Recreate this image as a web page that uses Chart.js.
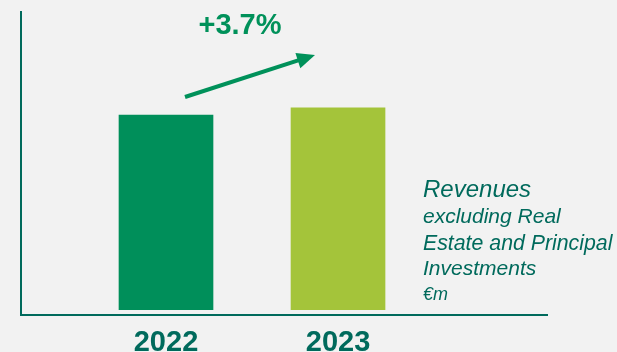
<!DOCTYPE html>
<html>
<head>
<meta charset="utf-8">
<script src="https://cdn.jsdelivr.net/npm/chart.js@4.4.1/dist/chart.umd.min.js"></script>
<style>
  html, body { margin: 0; padding: 0; background: #f2f2f2; }
  #wrap { width: 617px; height: 352px; overflow: hidden; }
</style>
</head>
<body>
<div id="wrap"><canvas id="revChart" width="617" height="352"></canvas></div>
<script>
var years = ['2022', '2023'];
var revenues = [100, 103.7];   // index, 2022 = 100
var barColors = ['#008f5a', '#a4c43a'];
var growthLabel = '+3.7%';
var noteLines = ['Revenues', 'excluding Real', 'Estate and Principal', 'Investments', '€m'];

var teal = '#006a5c';
var green = '#00915a';

// growth arrow + side note, drawn over the chart
var extras = {
  id: 'extras',
  afterDraw: function (chart) {
    var c = chart.ctx;
    c.save();
    c.fillStyle = green;
    c.font = 'bold 29px "Liberation Sans", Arial, sans-serif';
    c.textAlign = 'center';
    c.textBaseline = 'alphabetic';
    c.fillText(growthLabel, 240, 34);

    var x1 = 185, y1 = 97, x2 = 315, y2 = 55;
    var ang = Math.atan2(y2 - y1, x2 - x1);
    var cos = Math.cos(ang), sin = Math.sin(ang);
    c.strokeStyle = green;
    c.lineWidth = 4;
    c.beginPath();
    c.moveTo(x1, y1);
    c.lineTo(x2 - 12 * cos, y2 - 12 * sin);
    c.stroke();
    c.beginPath();
    c.moveTo(x2, y2);
    c.lineTo(x2 - 18 * cos + 8 * sin, y2 - 18 * sin - 8 * cos);
    c.lineTo(x2 - 18 * cos - 8 * sin, y2 - 18 * sin + 8 * cos);
    c.closePath();
    c.fill();

    c.fillStyle = teal;
    c.textAlign = 'left';
    var sizes = [24, 21, 21.3, 21, 18];
    var bases = [197, 223, 250, 275, 300];
    for (var i = 0; i < noteLines.length; i++) {
      c.font = 'italic ' + sizes[i] + 'px "Liberation Sans", Arial, sans-serif';
      c.fillText(noteLines[i], 423, bases[i]);
    }
    c.restore();
  }
};

var ctx = document.getElementById('revChart').getContext('2d');
var revChart = new Chart(ctx, {
  type: 'bar',
  data: {
    datasets: [{
      data: years.map(function (y, i) { return { x: i, y: revenues[i] }; }),
      backgroundColor: barColors,
      barThickness: 94
    }]
  },
  options: {
    responsive: false,
    animation: false,
    layout: { padding: { left: 21, right: 70, top: 12, bottom: -19.6 } },
    plugins: { legend: { display: false }, tooltip: { enabled: false } },
    scales: {
      x: {
        type: 'linear',
        offset: false,
        bounds: 'data',
        min: -0.843,
        max: 2.215,
        grid: { display: false, drawTicks: false },
        border: { display: true, color: teal, width: 2 },
        afterBuildTicks: function (axis) {
          axis.ticks = years.map(function (y, i) { return { value: i }; });
        },
        ticks: {
          color: teal,
          padding: 11,
          font: { family: '"Liberation Sans", Arial, sans-serif', size: 29, weight: 'bold' },
          callback: function (v) { return years[v]; }
        }
      },
      y: {
        min: -2.6,
        max: 153,
        grid: { display: false, drawTicks: false },
        border: { display: true, color: teal, width: 2 },
        ticks: { display: false }
      }
    }
  },
  plugins: [extras]
});
</script>
</body>
</html>
